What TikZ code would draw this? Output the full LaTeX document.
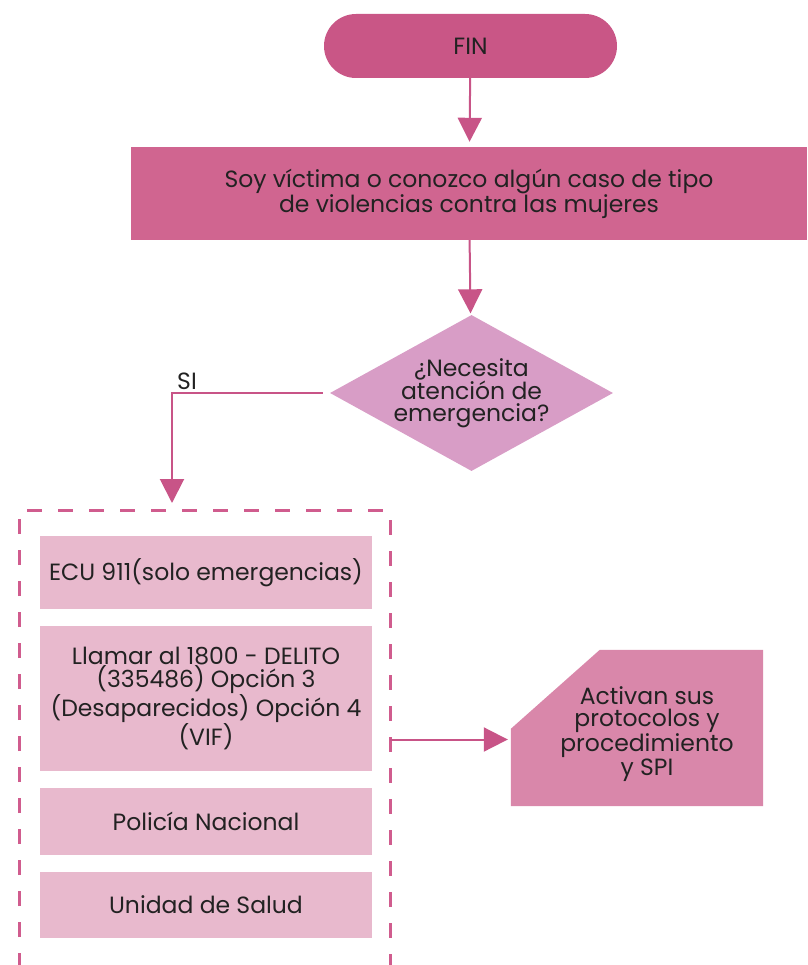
\documentclass[tikz,border=0pt]{standalone}
\usepackage{fontspec}
\setmainfont{Poppins}
\usetikzlibrary{shapes.geometric,arrows.meta,calc}
\definecolor{finc}{HTML}{C95686}
\definecolor{titc}{HTML}{D06590}
\definecolor{diac}{HTML}{D89DC6}
\definecolor{boxc}{HTML}{E8B9CD}
\definecolor{actc}{HTML}{D987AA}
\definecolor{linec}{HTML}{C85487}
\definecolor{dashc}{HTML}{D05C8E}
\definecolor{textc}{HTML}{222222}
\begin{document}
\begin{tikzpicture}[x=1pt,y=-1pt,
  txt/.style={font=\fontsize{23.5}{22}\selectfont, text=textc, align=center},
  conn/.style={draw=linec, line width=2pt, -{Triangle[width=24pt,length=24pt]}},
  itembox/.style={fill=boxc, minimum width=332pt, inner sep=0pt, txt}]
\useasboundingbox (0,0) rectangle (807,965);
\node[rounded corners=32pt, fill=finc, minimum width=293pt, minimum height=64pt, inner sep=0pt, txt] (fin) at (470.5,46) {FIN};
\node[fill=titc, minimum width=676pt, minimum height=93pt, inner sep=0pt, txt] (tit) at (469,193.5) {Soy víctima o conozco algún caso de tipo\\de violencias contra las mujeres};
\node[diamond, fill=diac, minimum width=283pt, minimum height=156pt, inner sep=0pt, aspect=1.81, txt] (dia) at (471.5,393) {¿Necesita\\atención de\\emergencia?};
\draw[conn, shorten >=5pt] (fin) -- (tit);
\draw[conn, shorten >=2pt] (tit) -- (dia);
\node[minimum width=370pt, minimum height=457pt, inner sep=0pt] (grp) at (205,739.5) {};
\draw[dashc, line width=3pt, dash pattern=on 15pt off 16pt] (grp.south west) |- (grp.north east) -- (grp.south east);
\node[itembox, minimum height=73pt] (ecu) at (206,572.5) {ECU 911(solo emergencias)};
\node[itembox, minimum height=145pt] (llam) at (206,698.5) {Llamar al 1800 - DELITO\\(335486) Opción 3\\(Desaparecidos) Opción 4\\(VIF)};
\node[itembox, minimum height=67pt] (pol) at (206,821.5) {Policía Nacional};
\node[itembox, minimum height=66pt] (uni) at (206,905) {Unidad de Salud};
\coordinate (siend) at (172,503);
\draw[conn, shorten <=7pt] (dia.west) -| (siend);
\node[txt] (si) at (187,381) {SI};
\node[minimum width=252pt, minimum height=156pt, inner sep=0pt] (act) at (637,728) {};
\fill[actc] (act.south west) -- ($(act.north west)+(0,79)$) -- ($(act.north west)+(89,0)$) -- (act.north east) -- (act.south east) -- cycle;
\node[txt] (acttxt) at (647,734) {Activan sus\\protocolos y\\procedimiento\\y SPI};
\draw[conn, shorten >=3pt] (grp.east) -- (grp.east -| act.west);
\end{tikzpicture}
\end{document}
